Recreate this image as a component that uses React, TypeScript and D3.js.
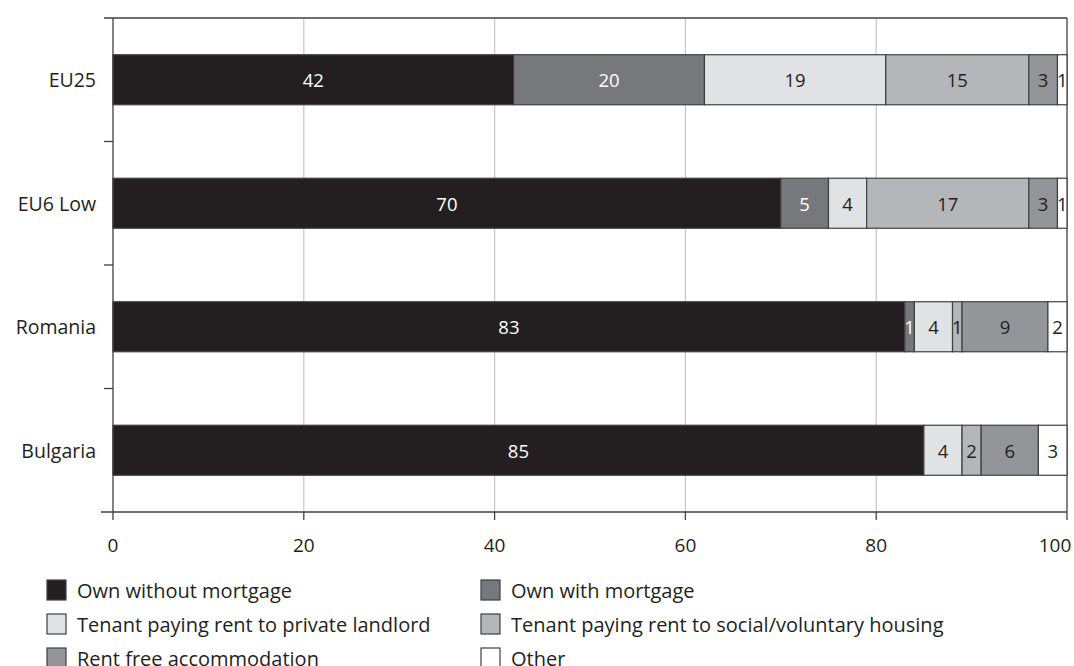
import React from "react";
import * as d3 from "d3";

const categories = ["EU25", "EU6 Low", "Romania", "Bulgaria"];
const seriesNames = [
  "Own without mortgage",
  "Own with mortgage",
  "Tenant paying rent to private landlord",
  "Tenant paying rent to social/voluntary housing",
  "Rent free accommodation",
  "Other",
];
const ownWithout = [42, 70, 83, 85];
const ownWith = [20, 5, 1, 0];
const tenantPrivate = [19, 4, 4, 4];
const tenantSocial = [15, 17, 1, 2];
const rentFree = [3, 3, 9, 6];
const other = [1, 1, 2, 3];
const xTicks = [0, 20, 40, 60, 80, 100];

const colors = ["#231f20", "#77787b", "#e1e2e4", "#b5b6b9", "#939598", "#ffffff"];
const labelColors = ["#ffffff", "#ffffff", "#231f20", "#231f20", "#231f20", "#231f20"];

const W = 1074;
const H = 666;
const left = 113;
const right = 1067;
const top = 18;
const bottom = 512;
const FONT = "'Open Sans', 'Noto Sans', sans-serif";

export default function App() {
  const series = [ownWithout, ownWith, tenantPrivate, tenantSocial, rentFree, other];
  const x = d3.scaleLinear().domain([0, 100]).range([left, right]);
  const y = d3.scaleBand().domain(categories).range([top, bottom]).paddingInner(0.595).paddingOuter(0.2975);
  const band = d3.scaleBand().domain(categories).range([top, bottom]);

  const rows = categories.map((c, i) => {
    let acc = 0;
    return series.map((s, k) => {
      const v = s[i];
      const x0 = acc;
      acc += v;
      return { c, k, v, x0, x1: acc };
    });
  });

  return (
    <svg width={W} height={H} style={{ position: "absolute", left: 0, top: 0, background: "#fff" }} fontFamily={FONT}>
      {/* gridlines */}
      {xTicks.slice(1, -1).map((t) => (
        <line key={t} x1={x(t)} x2={x(t)} y1={top} y2={bottom} stroke="#c6c6c6" strokeWidth={1.2} />
      ))}
      {/* frame */}
      <line x1={104} x2={right} y1={top} y2={top} stroke="#404040" strokeWidth={1.3} />
      <line x1={right} x2={right} y1={top} y2={bottom} stroke="#404040" strokeWidth={1.3} />
      <line x1={left} x2={left} y1={top} y2={bottom} stroke="#404040" strokeWidth={1.3} />
      <line x1={101} x2={right} y1={bottom} y2={bottom} stroke="#404040" strokeWidth={1.3} />
      {/* y ticks at band boundaries */}
      {categories.slice(1).map((c) => (
        <line key={c} x1={104} x2={left} y1={band(c)!} y2={band(c)!} stroke="#404040" strokeWidth={1.3} />
      ))}
      {/* x ticks */}
      {xTicks.map((t) => (
        <g key={t}>
          <line x1={x(t)} x2={x(t)} y1={bottom} y2={bottom + 8} stroke="#404040" strokeWidth={1.3} />
          <text
            x={Math.min(x(t), W - 19)}
            y={545}
            textAnchor="middle"
            dominantBaseline="central"
            fontSize={19}
            fill="#231f20"
          >
            {t}
          </text>
        </g>
      ))}
      {/* bars */}
      {rows.map((r, i) => (
        <g key={categories[i]}>
          {r.filter((d) => d.v > 0).map((d) => (
            <g key={d.k}>
              <rect
                x={x(d.x0)}
                y={y(d.c)!}
                width={x(d.x1) - x(d.x0)}
                height={y.bandwidth()}
                fill={colors[d.k]}
                stroke="#404040"
                strokeWidth={1.2}
              />
              <text
                x={(x(d.x0) + x(d.x1)) / 2}
                y={y(d.c)! + y.bandwidth() / 2}
                textAnchor="middle"
                dominantBaseline="central"
                fontSize={18.5}
                fill={labelColors[d.k]}
              >
                {d.v}
              </text>
            </g>
          ))}
          <text
            x={96}
            y={y(categories[i])! + y.bandwidth() / 2}
            textAnchor="end"
            dominantBaseline="central"
            fontSize={19.5}
            fill="#231f20"
          >
            {categories[i]}
          </text>
        </g>
      ))}
      {/* legend */}
      {seriesNames.map((n, k) => {
        const col = k % 2;
        const row = Math.floor(k / 2);
        const lx = col === 0 ? 47 : 481;
        const ly = 590 + row * 34;
        return (
          <g key={n}>
            <rect x={lx} y={ly - 10} width={19} height={20} fill={colors[k]} stroke="#404040" strokeWidth={1.2} />
            <text x={lx + 30} y={ly} dominantBaseline="central" fontSize={20} fill="#231f20">
              {n}
            </text>
          </g>
        );
      })}
    </svg>
  );
}
